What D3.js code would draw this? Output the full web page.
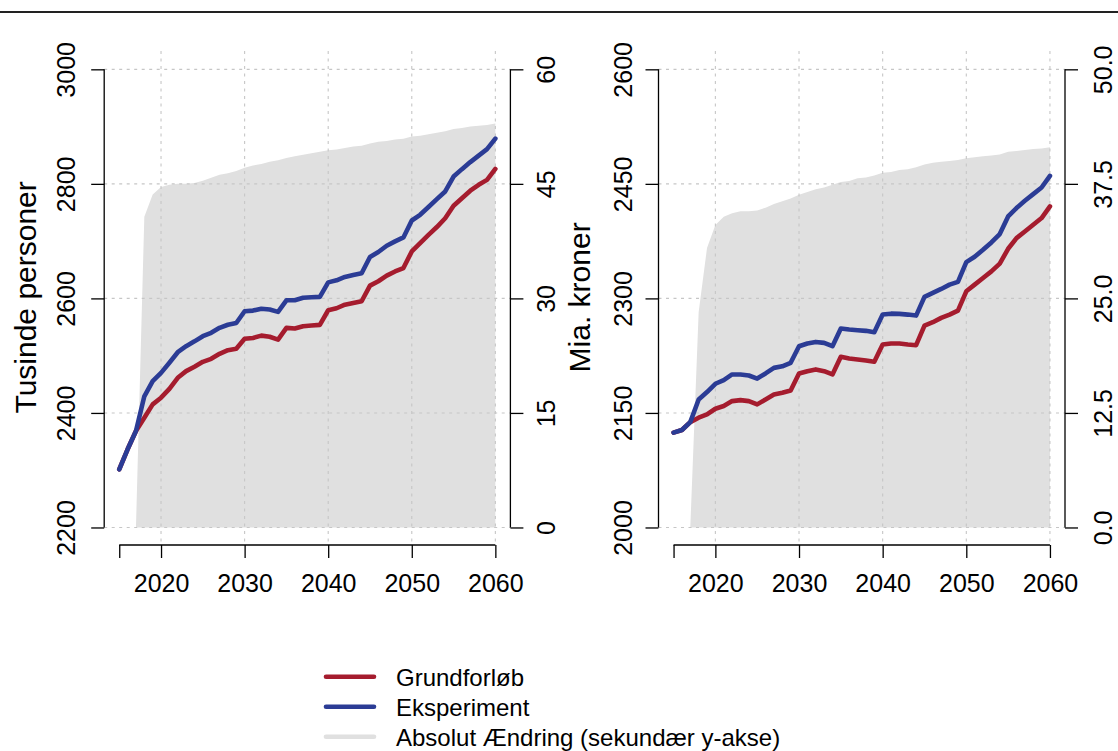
<!DOCTYPE html>
<html>
<head>
<meta charset="utf-8">
<script src="https://cdn.jsdelivr.net/npm/d3@7"></script>
<style>
  html, body { margin: 0; padding: 0; background: #fff; }
  svg { display: block; font-family: "Liberation Sans", Arial, sans-serif; }
</style>
</head>
<body>
<svg id="chart" width="1118" height="751"></svg>
<script>
// Years on the x axis
const years = d3.range(2015, 2061);

// Panel 1: population (thousand persons)
const popBase = [2301.6, 2336.5, 2368.4, 2391.7, 2415, 2426.6, 2442, 2461.4, 2473, 2480.6,
  2489.3, 2494.5, 2503.3, 2509.6, 2512, 2529.4, 2531, 2535, 2533, 2528,
  2548.6, 2547.4, 2551.4, 2552.6, 2553.8, 2579.3, 2582.8, 2589, 2592, 2595,
  2622.3, 2630, 2639.7, 2647, 2653, 2682, 2696.7, 2711, 2724.6, 2740,
  2761.7, 2775, 2788, 2798.3, 2807, 2826];
const popExp = [2301.6, 2336.5, 2368.4, 2429, 2455.5, 2470, 2487.6, 2506, 2516.5, 2525,
  2534, 2540, 2548.6, 2554, 2557, 2577.5, 2578.7, 2582, 2580.5, 2576.5,
  2596.7, 2596.7, 2601, 2602, 2602.6, 2628, 2631.6, 2637.5, 2641, 2644,
  2672.3, 2681, 2692, 2699.5, 2706.5, 2736, 2746, 2759.5, 2773.4, 2786.7,
  2812.8, 2825.7, 2838, 2849.4, 2860.6, 2879];
const popDiff = [0, 0, 0, 40.7, 43.6, 44.6, 44.9, 45, 45, 45.1,
  45.4, 45.8, 46.2, 46.4, 46.7, 47.1, 47.4, 47.6, 47.9, 48.1,
  48.4, 48.6, 48.8, 49, 49.2, 49.4, 49.5, 49.7, 49.9, 50,
  50.3, 50.5, 50.6, 50.8, 50.9, 51.2, 51.3, 51.5, 51.7, 51.9,
  52.2, 52.3, 52.5, 52.6, 52.7, 52.9];

// Panel 2: billion kroner
const gdpBase = [2124.2, 2127.6, 2138, 2143.8, 2148, 2155.5, 2159, 2165.5, 2166.8, 2165.5,
  2161.2, 2167.7, 2174.2, 2176.5, 2179.5, 2201.7, 2204.7, 2207, 2204.7, 2200.4,
  2223.5, 2221.3, 2220, 2218.7, 2217, 2239.6, 2241, 2241, 2239.6, 2238.7,
  2264.4, 2268.8, 2274.5, 2278.8, 2284, 2309.3, 2318, 2326.8, 2335.4, 2345.5,
  2365, 2379, 2387.7, 2396.5, 2405.2, 2420.4];
const gdpExp = [2124.2, 2127.6, 2138, 2167.7, 2177.3, 2188.2, 2193, 2200.4, 2200.4, 2199,
  2195, 2201.7, 2209, 2211, 2215.7, 2237.4, 2241, 2243, 2241.8, 2237.4,
  2260.5, 2259.2, 2258.3, 2257.5, 2255.7, 2278.8, 2280, 2279.7, 2278.8, 2277.5,
  2302, 2307.2, 2312.4, 2318, 2321.6, 2347.5, 2354.5, 2363.6, 2373.3, 2384.3,
  2407.3, 2418.3, 2427.8, 2436.6, 2445.2, 2460.5];
const gdpDiff = [0, 0, 0, 23.5, 30.5, 33.0, 33.9, 34.3, 34.5, 34.5,
  34.6, 34.9, 35.3, 35.6, 35.9, 36.3, 36.6, 36.9, 37.1, 37.4,
  37.7, 37.8, 38.1, 38.2, 38.4, 38.7, 38.8, 39, 39.1, 39.3,
  39.6, 39.8, 39.9, 40, 40.1, 40.3, 40.4, 40.5, 40.6, 40.7,
  41, 41.1, 41.2, 41.3, 41.35, 41.5];

// Tick values and labels
const xTicks = [2015, 2020, 2030, 2040, 2050, 2060];
const xTickLabels = ["", "2020", "2030", "2040", "2050", "2060"];
const xGrid = [2020, 2030, 2040, 2050, 2060];
const popTicks = [2200, 2400, 2600, 2800, 3000];
const popDiffTicks = [0, 15, 30, 45, 60];
const gdpTicks = [2000, 2150, 2300, 2450, 2600];
const gdpDiffTicks = [0, 12.5, 25, 37.5, 50];

const seriesNames = ["Grundforløb", "Eksperiment", "Absolut Ændring (sekundær y-akse)"];
const colBase = "#a51c2e", colExp = "#2b3c95", colDiff = "#e0e0e0";

const svg = d3.select("#chart");

// Rule across the top
svg.append("line").attr("x1", 0).attr("x2", 1118).attr("y1", 12).attr("y2", 12)
  .attr("stroke", "#222").attr("stroke-width", 2.2);

const panels = [
  { x0: 104.2, x1: 510.4, base: popBase, exp: popExp, diff: popDiff,
    yTicks: popTicks, y2Ticks: popDiffTicks, y2Fmt: d => String(d),
    title: "Tusinde personer", titleX: 36, lab1: 75, lab2: 555 },
  { x0: 658.5, x1: 1065, base: gdpBase, exp: gdpExp, diff: gdpDiff,
    yTicks: gdpTicks, y2Ticks: gdpDiffTicks, y2Fmt: d => d.toFixed(1),
    title: "Mia. kroner", titleX: 590, lab1: 631.7, lab2: 1111.7 }
];
const Y0 = 51, Y1 = 545.8;

function padded(lo, hi) { const p = (hi - lo) * 0.04; return [lo - p, hi + p]; }

panels.forEach(p => {
  const g = svg.append("g");
  const x = d3.scaleLinear().domain(padded(2015, 2060)).range([p.x0, p.x1]);
  const y = d3.scaleLinear().domain(padded(p.yTicks[0], p.yTicks[p.yTicks.length - 1])).range([Y1, Y0]);
  const y2 = d3.scaleLinear().domain(padded(p.y2Ticks[0], p.y2Ticks[p.y2Ticks.length - 1])).range([Y1, Y0]);

  // Absolute change, secondary axis
  g.append("path")
    .datum(years.map((yr, i) => [yr, p.diff[i]]))
    .attr("fill", colDiff)
    .attr("d", d3.area().x(d => x(d[0])).y0(y2(0)).y1(d => y2(d[1])));

  // Dotted grid
  const grid = g.append("g").attr("stroke", "#c6c6c6").attr("stroke-width", 1.1)
    .attr("stroke-dasharray", "3,4.5");
  grid.selectAll("line.h").data(p.yTicks).join("line")
    .attr("x1", p.x0).attr("x2", p.x1).attr("y1", d => y(d)).attr("y2", d => y(d));
  grid.selectAll("line.v").data(xGrid).join("line")
    .attr("x1", d => x(d)).attr("x2", d => x(d)).attr("y1", Y0).attr("y2", Y1);

  // Series lines
  const line = d3.line().x((d, i) => x(years[i])).y(d => y(d));
  [[p.base, colBase], [p.exp, colExp]].forEach(([vals, col]) => {
    g.append("path").datum(vals).attr("fill", "none").attr("stroke", col)
      .attr("stroke-width", 4.6).attr("stroke-linejoin", "round").attr("stroke-linecap", "round")
      .attr("d", line);
  });

  const axisStyle = sel => {
    sel.select(".domain").remove();
    sel.selectAll(".tick line").attr("stroke", "#000").attr("stroke-width", 1.3);
    sel.selectAll("text").attr("fill", "#000").attr("font-size", 25)
      .attr("font-family", "Liberation Sans, Arial, sans-serif");
  };

  // Primary y axis (left)
  const ya = g.append("g").attr("transform", `translate(${p.x0},0)`)
    .call(d3.axisLeft(y).tickValues(p.yTicks).tickSize(13).tickFormat(d => String(d)));
  axisStyle(ya);
  ya.selectAll("text").attr("x", null).attr("dy", null).attr("text-anchor", "middle")
    .attr("transform", `translate(${p.lab1 - p.x0},0) rotate(-90)`);
  ya.append("line").attr("x1", 0).attr("x2", 0)
    .attr("y1", y(p.yTicks[0])).attr("y2", y(p.yTicks[p.yTicks.length - 1]))
    .attr("stroke", "#000").attr("stroke-width", 1.3);

  // Secondary y axis (right)
  const y2a = g.append("g").attr("transform", `translate(${p.x1},0)`)
    .call(d3.axisRight(y2).tickValues(p.y2Ticks).tickSize(13).tickFormat(p.y2Fmt));
  axisStyle(y2a);
  y2a.selectAll("text").attr("x", null).attr("dy", null).attr("text-anchor", "middle")
    .attr("transform", `translate(${p.lab2 - p.x1},0) rotate(-90)`);
  y2a.append("line").attr("x1", 0).attr("x2", 0)
    .attr("y1", y2(p.y2Ticks[0])).attr("y2", y2(p.y2Ticks[p.y2Ticks.length - 1]))
    .attr("stroke", "#000").attr("stroke-width", 1.3);

  // x axis
  const xa = g.append("g").attr("transform", `translate(0,${Y1 - 0.8})`)
    .call(d3.axisBottom(x).tickValues(xTicks).tickSize(13)
      .tickFormat((d, i) => xTickLabels[i]));
  axisStyle(xa);
  xa.selectAll("text").attr("dy", null).attr("y", 592 - (Y1 - 0.8));
  xa.append("line").attr("x1", x(xTicks[0])).attr("x2", x(xTicks[xTicks.length - 1]))
    .attr("y1", 0).attr("y2", 0).attr("stroke", "#000").attr("stroke-width", 1.3);

  // Axis title
  g.append("text").attr("transform", `translate(${p.titleX},${(Y0 + Y1) / 2 - 1}) rotate(-90)`)
    .attr("text-anchor", "middle").attr("font-size", 30).attr("fill", "#000")
    .text(p.title);
});

// Legend
const legend = svg.append("g");
const legCols = [colBase, colExp, colDiff];
seriesNames.forEach((name, i) => {
  const ly = 676.7 + i * 30;
  legend.append("line").attr("x1", 326).attr("x2", 374).attr("y1", ly).attr("y2", ly)
    .attr("stroke", legCols[i]).attr("stroke-width", 4.6).attr("stroke-linecap", "round");
  legend.append("text").attr("x", 396).attr("y", ly + 9.5).attr("font-size", 24)
    .attr("fill", "#000").text(name);
});
</script>
</body>
</html>
